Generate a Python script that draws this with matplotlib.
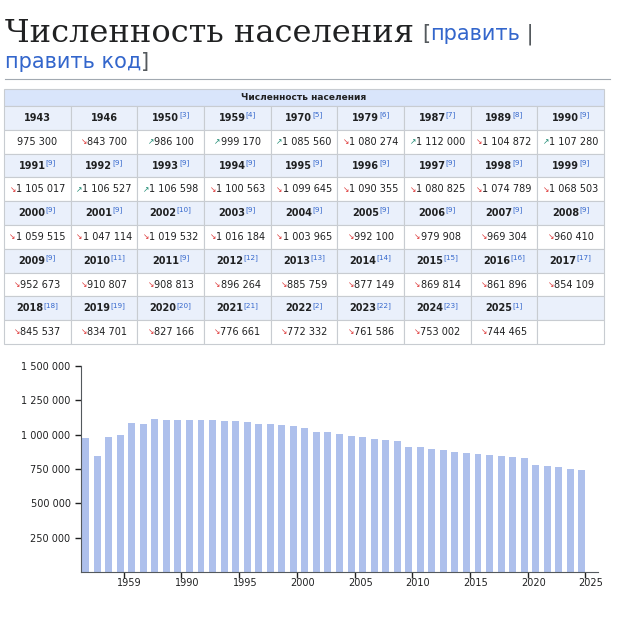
import matplotlib
matplotlib.use("Agg")
import matplotlib.pyplot as plt
from matplotlib.patches import Rectangle

years = [1943,1946,1950,1959,1970,1979,1987,1989,1990,
         1991,1992,1993,1994,1995,1996,1997,1998,1999,
         2000,2001,2002,2003,2004,2005,2006,2007,2008,
         2009,2010,2011,2012,2013,2014,2015,2016,2017,
         2018,2019,2020,2021,2022,2023,2024,2025]
refs = ["","","3","4","5","6","7","8","9",
        "9","9","9","9","9","9","9","9","9",
        "9","9","10","9","9","9","9","9","9",
        "9","11","9","12","13","14","15","16","17",
        "18","19","20","21","2","22","23","1"]
population = [975300,843700,986100,999170,1085560,1080274,1112000,1104872,1107280,
              1105017,1106527,1106598,1100563,1099645,1090355,1080825,1074789,1068503,
              1059515,1047114,1019532,1016184,1003965,992100,979908,969304,960410,
              952673,910807,908813,896264,885759,877149,869814,861896,854109,
              845537,834701,827166,776661,772332,761586,753002,744465]
tick_years = [1959,1990,1995,2000,2005,2010,2015,2020,2025]
y_ticks = [250000,500000,750000,1000000,1250000,1500000]

W, H = 640, 629
fig = plt.figure(figsize=(6.4, 6.29), dpi=100)
fig.patch.set_facecolor("white")
renderer = fig.canvas.get_renderer()

def fx(px): return px / W
def fy(py): return 1 - py / H
def fmt(v): return f"{v:,}".replace(",", " ")

def width_px(t):
    bb = t.get_window_extent(renderer)
    return bb.width

def row_texts(x_left, y, parts, **common):
    """parts: list of (string, dict). placed consecutively from x_left (px)."""
    x = x_left
    out = []
    for s, kw in parts:
        k = dict(common); k.update(kw)
        dy = k.pop("dy", 0)
        t = fig.text(fx(x), fy(y + dy), s, ha="left", va="center", **k)
        x += width_px(t) + k.get("gap", 0) if False else width_px(t)
        out.append(t)
    return x - x_left, out

def centered(cx, y, parts, **common):
    # measure first
    tmp = []
    total = 0
    for s, kw in parts:
        k = dict(common); k.update(kw); k.pop("dy", None)
        t = fig.text(0, 0, s, **k)
        total += width_px(t)
        t.remove()
    row_texts(cx - total / 2, y, parts, **common)

# Title
t = fig.text(fx(5), fy(33), "Численность населения", family="DejaVu Serif", fontsize=23,
             va="center", ha="left", color="#202122")
x = 5 + width_px(t) + 8
row_texts(x, 34, [("[", dict(color="#54595d")), ("править", dict(color="#3366cc")),
                  (" | ", dict(color="#54595d"))], fontsize=15)
row_texts(5, 62, [("править код", dict(color="#3366cc")), ("]", dict(color="#54595d"))], fontsize=15)
fig.add_artist(plt.Line2D([fx(5), fx(610)], [fy(79), fy(79)], color="#a2a9b1", lw=0.8))

# Table
tx0, tx1 = 4, 604
ty0 = 89
hh = 17
rh = 23.8
ncol = 9
cw = (tx1 - tx0) / ncol
border = "#c8ccd1"
fig.add_artist(Rectangle((fx(tx0), fy(ty0 + hh)), fx(tx1 - tx0), hh / H,
                         facecolor="#d9e5fb", edgecolor=border, lw=0.8))
fig.text(fx((tx0 + tx1) / 2), fy(ty0 + hh / 2), "Численность населения",
         ha="center", va="center", fontsize=6.5, weight="bold", color="#202122")
for r in range(5):
    for kind in range(2):
        top = ty0 + hh + (2 * r + kind) * rh
        for c in range(ncol):
            i = r * ncol + c
            x0 = tx0 + c * cw
            fc = "#eaf0fb" if kind == 0 else "white"
            fig.add_artist(Rectangle((fx(x0), fy(top + rh)), cw / W, rh / H,
                                     facecolor=fc, edgecolor=border, lw=0.8))
            if i >= len(years):
                continue
            cx, cy = x0 + cw / 2, top + rh / 2
            if kind == 0:
                parts = [(str(years[i]), dict(fontsize=7, weight="bold", color="#202122"))]
                if refs[i]:
                    parts.append((f"[{refs[i]}]", dict(fontsize=5.2, color="#3366cc", dy=-3)))
                centered(cx, cy, parts)
            else:
                s = fmt(population[i])
                if i == 0:
                    centered(cx, cy, [(s, dict(fontsize=7, color="#202122"))])
                else:
                    up = population[i] > population[i - 1]
                    arrow = "↗" if up else "↘"
                    col = "#14866d" if up else "#d33"
                    centered(cx, cy, [(arrow, dict(fontsize=5.5, color=col)),
                                      (s, dict(fontsize=7, color="#202122"))])

# Bar chart
ax = fig.add_axes([fx(81), fy(572), fx(598 - 81), (572 - 366) / H])
xs = list(range(len(years)))
ax.bar(xs, population, width=0.6, color="#aec0ec")
ax.set_ylim(0, 1500000)
ax.set_xlim(-0.4, len(years) + 0.4)
ax.set_yticks(y_ticks)
ax.set_yticklabels([fmt(v) for v in y_ticks], fontsize=7, color="#202122")
tpos = [years.index(y) + 0.3 for y in tick_years]
ax.set_xticks(tpos)
ax.set_xticklabels([])
for p, y in zip(tpos, tick_years):
    ax.text(p + 0.5, -45000, str(y), ha="center", va="top", fontsize=7, color="#202122")
for s in ["top", "right"]:
    ax.spines[s].set_visible(False)
ax.spines["left"].set_color("#54595d")
ax.spines["bottom"].set_color("#54595d")
ax.tick_params(length=4, width=1, color="#202122")

fig.savefig("out.png", dpi=100)
